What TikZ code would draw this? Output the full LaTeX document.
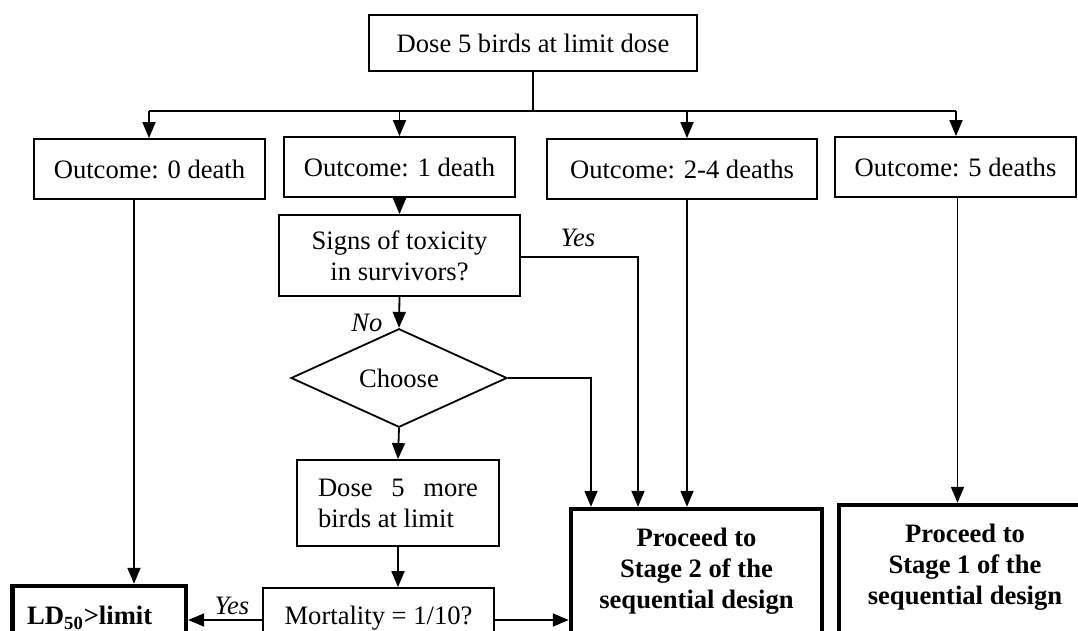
\documentclass[tikz,border=0pt]{standalone}
\usepackage{fontspec}
\setmainfont{Liberation Serif}
\usetikzlibrary{arrows.meta,shapes.geometric,calc}
\begin{document}
\begin{tikzpicture}[x=0.5pt,y=-0.5pt,
  txt/.style={font=\fontsize{13.3pt}{15.5pt}\selectfont},
  box/.style={txt,draw,line width=0.9pt,inner sep=0pt,align=center},
  bigbox/.style={txt,draw,line width=2.2pt,inner sep=0pt,align=center,font=\fontsize{13.3pt}{15.5pt}\selectfont\bfseries},
  bigtext/.style={inner sep=0pt,align=center,font=\fontsize{13.3pt}{15.5pt}\selectfont\bfseries},
  arr/.style={line width=0.9pt,-{Triangle[length=8pt,width=6.5pt]}},
  ln/.style={line width=0.9pt},
  lbl/.style={txt,font=\fontsize{13.3pt}{15.5pt}\selectfont\itshape,inner sep=0pt}]
\useasboundingbox (0,0) rectangle (1078,631);
\clip (0,0) rectangle (1078,631);
\fill[white] (0,0) rectangle (1078,631);

% nodes
\node[box,minimum width=164pt,minimum height=28pt] (top) at (533,43) {Dose 5 birds at limit dose};
\node[box,minimum width=115.5pt,minimum height=30pt] (b1) at (149.5,169) {Outcome: 0 death};
\node[box,minimum width=115.5pt,minimum height=30pt] (b2) at (399.5,167) {Outcome: 1 death};
\node[box,minimum width=135pt,minimum height=30pt] (b3) at (682,169) {Outcome: 2-4 deaths};
\node[box,minimum width=120.5pt,minimum height=30pt] (b4) at (955.5,167) {Outcome: 5 deaths};
\node[box,minimum width=120.5pt,minimum height=40.5pt] (signs) at (399.5,255.5) {Signs of toxicity\\in survivors?};
\node[txt,draw,line width=0.9pt,diamond,inner sep=0pt,minimum width=108pt,minimum height=35pt] (choose) at (399,378) {Choose};
\node[box,minimum width=101pt,minimum height=43pt] (dose) at (398,503) {\parbox{80pt}{Dose\hfill 5\hfill more\\birds at limit}};
\node[box,minimum width=115.5pt,minimum height=30pt] (mort) at (378.5,618) {Mortality = 1/10?};
\node[bigbox,minimum width=86.75pt,minimum height=32pt] (ld) at (99.25,618) {\makebox[72pt][l]{LD\textsubscript{50}>limit}};
% stage boxes (their lower parts run off the picture)
\node[bigbox,minimum width=125.5pt,minimum height=80pt] (st2) at (696.5,589) {};
\node[bigtext] (st2t) at (696.5,571.5) {Proceed to\\Stage 2 of the\\sequential design};
\node[bigbox,minimum width=135pt,minimum height=80pt] (st1) at (974,585) {};
\node[bigtext] (st1t) at (965,567) {Proceed to\\Stage 1 of the\\sequential design};

% top distribution
\coordinate (hubL) at (149,111);
\coordinate (hubR) at (956,111);
\draw[ln] (top.south) -- (top.south |- hubL);
\draw[ln] (hubL) -- (hubR);
\draw[arr] (hubL) -- (hubL |- b1.north);
\draw[arr] (b2.north |- hubL) -- (b2.north);
\draw[arr] ([xshift=2.5pt]b3.north |- hubL) -- ([xshift=2.5pt]b3.north);
\draw[arr] (hubR) -- (hubR |- b4.north);

% outcome branches
\draw[arr] ([xshift=-7.75pt]b1.south) -- ([xshift=-7.75pt]b1.south |- ld.north);
\draw[arr] (b2.south) -- (signs.north);
\draw[arr] ([xshift=2.5pt]b3.south) -- ([xshift=2.5pt]b3.south |- st2.north);
\draw[arr] ([xshift=1pt]b4.south) -- ([xshift=1pt]b4.south |- st1.north);

% signs of toxicity
\draw[arr] ([yshift=-0.75pt]signs.east) -| ([xshift=-29.25pt]st2.north);
\node[lbl] (yes1) at (578,238) {Yes};
\draw[arr] (signs.south) -- (choose.north);
\node[lbl] (no1) at (367,323) {No};

% choose
\draw[arr] (choose.east) -| ([xshift=-52.75pt]st2.north);
\draw[arr] (choose.south) -- (dose.north);

% dose more
\draw[arr] (dose.south) -- (dose.south |- mort.north);

% mortality
\draw[arr] ([yshift=-1pt]mort.west) -- ([yshift=-1pt]mort.west -| ld.east);
\node[lbl] (yes2) at (232,606) {Yes};
\draw[arr] ([yshift=-1pt]mort.east) -- ([yshift=-1pt]mort.east -| st2.west);
\end{tikzpicture}
\end{document}
